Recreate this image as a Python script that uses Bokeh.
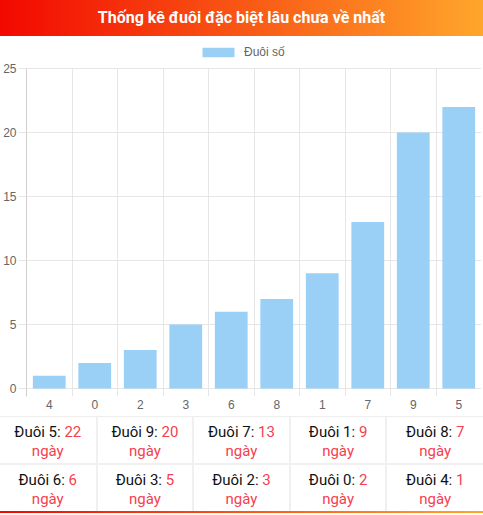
from bokeh.plotting import figure
from bokeh.models import Div, FactorRange, Range1d, FixedTicker, Legend, LegendItem
from bokeh.layouts import column
from bokeh.embed import file_html
from bokeh.resources import INLINE

# data
title_text = "Thống kê đuôi đặc biệt lâu chưa về nhất"
series_name = "Đuôi số"
tails = ["4", "0", "2", "3", "6", "8", "1", "7", "9", "5"]
days = [1, 2, 3, 5, 6, 7, 9, 13, 20, 22]
y_ticks = [0, 5, 10, 15, 20, 25]

W = 483
H = 380
TOP, BOTTOM = 4, 20
Y0, Y1 = -0.625, 27.1875   # room below 0 for tick stubs, room above 25 for the legend
RED = "#f6404f"

# header bar
header = Div(
    text=('<div style="width:%dpx;height:36px;background:linear-gradient(to right,#f20800,#ffa62b);'
          'color:#fff;font-family:Roboto;font-weight:bold;font-size:16px;text-align:center;'
          'line-height:36px;">%s</div>') % (W, title_text),
    width=W, height=36, margin=0)

# bar chart
p = figure(x_range=FactorRange(factors=tails, range_padding=0, factor_padding=0),
           y_range=Range1d(Y0, Y1),
           width=W, height=H, output_backend="svg", toolbar_location=None,
           min_border_left=26, min_border_right=2, min_border_top=TOP, min_border_bottom=BOTTOM,
           margin=0)
p.outline_line_color = None
bars = p.vbar(x=tails, top=days, width=0.72, fill_color="#9ad0f5", line_color=None)

p.yaxis.ticker = FixedTicker(ticks=y_ticks)
p.yaxis.bounds = (Y0, max(y_ticks))
p.yaxis.major_tick_out = 8
p.yaxis.major_tick_in = 0
p.yaxis.minor_tick_line_color = None
p.yaxis.major_tick_line_color = "#e6e6e6"
p.yaxis.axis_line_color = "#cfcfcf"
p.yaxis.major_label_standoff = 2
p.yaxis.major_label_text_color = "#666666"
p.yaxis.major_label_text_font = "Liberation Sans"
p.yaxis.major_label_text_font_size = "12px"

p.xaxis.axis_line_color = None
p.xaxis.major_tick_line_color = None
p.xaxis.major_tick_out = 0
p.xaxis.major_label_standoff = 3
p.xaxis.major_label_text_color = "#666666"
p.xaxis.major_label_text_font = "Liberation Sans"
p.xaxis.major_label_text_font_size = "12px"

p.ygrid.ticker = FixedTicker(ticks=y_ticks)
p.ygrid.grid_line_color = "#e6e6e6"
p.xgrid.ticker = FixedTicker(ticks=list(range(len(tails) + 1)))
p.xgrid.cross_bounds = (Y0, max(y_ticks))
p.xgrid.grid_line_color = "#e6e6e6"

frame_h = H - TOP - BOTTOM
legend = Legend(items=[LegendItem(label=series_name, renderers=[bars])],
                location=(172, frame_h - 19), orientation="horizontal",
                glyph_width=40, glyph_height=12, label_standoff=6, label_height=12,
                label_text_font="Liberation Sans", label_text_font_size="12px",
                label_text_color="#666666", border_line_color=None,
                background_fill_alpha=0, padding=0, margin=0)
p.add_layout(legend)

# table of tails sorted by days, longest first
order = sorted(range(len(tails)), key=lambda i: -days[i])
rows = [order[:5], order[5:]]
cells_html = ""
for r, row in enumerate(rows):
    cells_html += "<tr>"
    for c, i in enumerate(row):
        border = "border-top:2px solid #f0f0f0;" if r == 1 else "border-top:1px solid #eeeeee;"
        if c < 4:
            border += "border-right:2px solid #f0f0f0;"
        cells_html += ('<td style="%stext-align:center;vertical-align:top;height:47px;padding:6px 0 0 0;'
                       'line-height:19px;">Đuôi %s: <span style="color:%s">%d</span><br>'
                       '<span style="color:%s">ngày</span></td>') % (border, tails[i], RED, days[i], RED)
    cells_html += "</tr>"

table = Div(
    text=('<div style="width:%dpx;background:linear-gradient(to right,#f20800,#ffa62b);padding-bottom:2px;">'
          '<table style="width:100%%;border-collapse:collapse;table-layout:fixed;background:#fff;'
          'font-family:Roboto;font-size:15px;color:#111;">%s</table></div>') % (W, cells_html),
    width=W, height=99, margin=0)

layout = column(header, p, table, spacing=0)

open("out.html", "w").write(file_html(layout, INLINE))
